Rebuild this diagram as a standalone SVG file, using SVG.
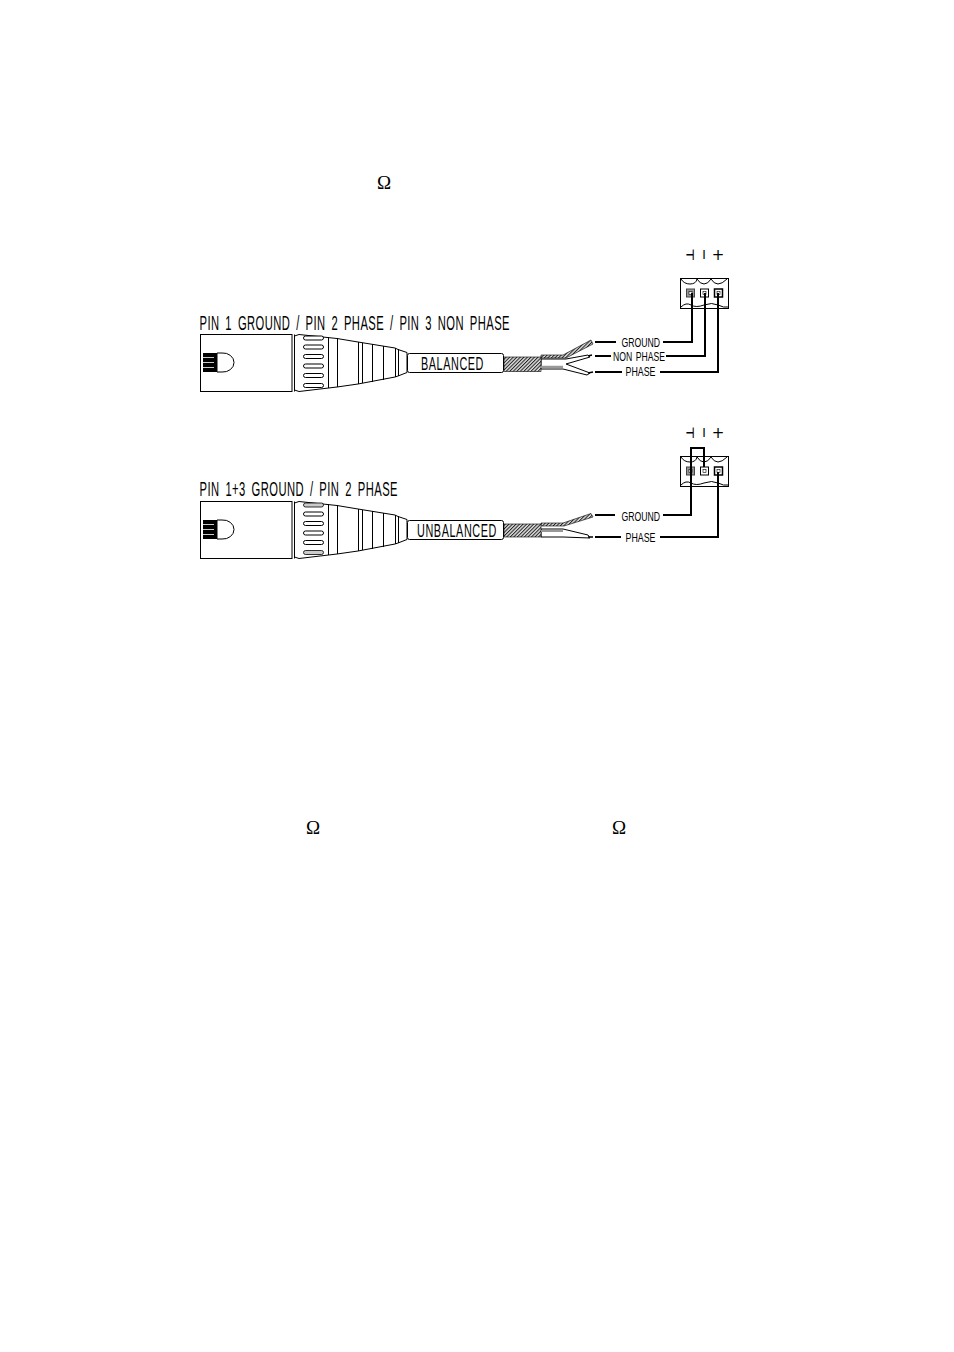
<svg xmlns="http://www.w3.org/2000/svg" width="954" height="1352" viewBox="0 0 954 1352">
<style>
.t{font-family:"Liberation Sans",Arial,sans-serif;fill:#000}
.big{font-size:19.500px;word-spacing:4px;letter-spacing:0.800px}
.mid{font-size:18.500px;letter-spacing:1px}
.sm{font-size:13.500px;word-spacing:2px}
.om{font-family:"Liberation Serif","Times New Roman",serif;font-size:19px;fill:#000}
.sym{font-family:"DejaVu Sans",sans-serif;font-size:15px;fill:#000;text-anchor:middle}
.l{fill:none;stroke:#000;stroke-width:1}
.lw{fill:#fff;stroke:#000;stroke-width:1}
.w{fill:none;stroke:#000;stroke-width:2}
.slot{fill:#fff;stroke:#000;stroke-width:1}
</style>
<defs>
<pattern id="hatch" width="2.500" height="2.500" patternUnits="userSpaceOnUse" patternTransform="rotate(45)">
<rect width="2.500" height="2.500" fill="#ddd"/><rect width="1" height="2.500" fill="#222"/>
</pattern>
<g id="xlr">
<rect class="lw" x="200.500" y="334.500" width="91.500" height="57"/>
<path class="l" d="M294.500 334.500V391.500"/>
<path class="lw" d="M294.500 336L299 334.500L337 338.500L358 342L395 348L398 349.500L407 352.500V372.500L398 376L395 377L358 384L337 387L299 391.500L294.500 390Z"/>
<path class="l" d="M328.500 337V388M337.500 338V387M358.500 342V384M362.500 343V383M372.500 344V382M383.500 346V380M395.500 348V377M398.500 349V376"/>
<path class="lw" d="M217 353H222A11 9.500 0 0 1 234 362.500A11 9.500 0 0 1 222 372H217Z"/>
<rect x="203" y="353" width="14" height="19" fill="#000"/>
<path d="M203 357.500H214M203 362.500H214M203 367.500H214" stroke="#fff" stroke-width="0.800"/>
</g>
<g id="slots">
<rect class="slot" x="303.500" y="345" width="20" height="4" rx="2"/>
<rect class="slot" x="303.500" y="354.500" width="20" height="4" rx="2"/>
<rect class="slot" x="303.500" y="364" width="20" height="4" rx="2"/>
<rect class="slot" x="303.500" y="373.500" width="20" height="4" rx="2"/>
</g>
<g id="block">
<rect class="lw" x="680.500" y="278.500" width="48" height="30"/>
<path class="l" d="M681 279Q684 284 690 284T697 279Q700 284 704 284T711 279Q714 284 718 284T727 279"/>
<path class="l" d="M681 307Q686 302 691 305T704 305T718 305T728 307" stroke-width="1.500"/>
<rect x="686.500" y="289" width="8" height="8" fill="#999" stroke="#444"/>
<rect x="700.500" y="289" width="8" height="8" fill="#fff" stroke="#000"/>
<rect x="714.500" y="289" width="8" height="8" fill="#fff" stroke="#000" stroke-width="1.500"/>
<rect x="689" y="291.500" width="3" height="3" fill="#fff" stroke="#000" stroke-width="0.600"/>
<rect x="703" y="291.500" width="3" height="3" fill="#fff" stroke="#000" stroke-width="0.600"/>
<rect x="717" y="291.500" width="3" height="3" fill="#fff" stroke="#000" stroke-width="0.600"/>
</g>
</defs>

<text class="om" x="377" y="189">Ω</text>
<text class="om" x="306" y="834">Ω</text>
<text class="om" x="612" y="834">Ω</text>

<g id="balanced-connector">
<use href="#xlr"/>
<use href="#slots"/>
<rect class="slot" x="303.500" y="336" width="20" height="4" rx="2"/>
<rect class="slot" x="303.500" y="383.500" width="20" height="4" rx="2"/>
<rect class="lw" x="407.500" y="353.500" width="96" height="19" rx="2"/>
<text class="t mid" x="421" y="370" textLength="63" lengthAdjust="spacingAndGlyphs">BALANCED</text>
<text class="t big" x="199.500" y="330" textLength="310.500" lengthAdjust="spacingAndGlyphs">PIN 1 GROUND / PIN 2 PHASE / PIN 3 NON PHASE</text>
</g>
<g id="balanced-wires">
<path d="M541 355H563L591 340L593 344L566 358H541Z" fill="url(#hatch)" stroke="#000" stroke-width="0.600"/>
<path class="lw" d="M541 359H566L588 355L590 357L566 364L590 373L587 375L563 369H541Z"/>
<rect x="504" y="357" width="37" height="14.500" fill="url(#hatch)" stroke="#000" stroke-width="0.600"/>
<path d="M541 367H563" stroke="#999" stroke-width="2.500"/>
<path d="M588 356L592 355M588 373L593 372" stroke="#000" stroke-width="1.500"/>
</g>
<g id="balanced-labels">
<text class="t sm" x="621.500" y="346.500" textLength="38.500" lengthAdjust="spacingAndGlyphs">GROUND</text>
<text class="t sm" x="613" y="360.500" textLength="52" lengthAdjust="spacingAndGlyphs">NON PHASE</text>
<text class="t sm" x="625.500" y="376" textLength="30" lengthAdjust="spacingAndGlyphs">PHASE</text>
</g>
<g id="balanced-block"><use href="#block"/>
<text class="sym" x="690" y="259.500" font-weight="bold" textLength="9" lengthAdjust="spacingAndGlyphs">⊣</text>
<text class="sym" x="704" y="259" style="font-size:12px">I</text>
<text class="sym" x="718" y="259.500">+</text>
</g>

<g id="unbalanced-connector">
<g transform="translate(0,167)"><use href="#xlr"/><use href="#slots"/></g>
<rect x="303.500" y="503" width="20" height="4" rx="2" fill="#ccc" stroke="#000" stroke-width="0.800"/>
<rect x="303.500" y="550.500" width="20" height="4" rx="2" fill="#ccc" stroke="#000" stroke-width="0.800"/>
<rect class="lw" x="407.500" y="520.500" width="96" height="19" rx="2"/>
<text class="t mid" x="417" y="537" textLength="80" lengthAdjust="spacingAndGlyphs">UNBALANCED</text>
<text class="t big" x="199.500" y="496" textLength="198.500" lengthAdjust="spacingAndGlyphs">PIN 1+3 GROUND / PIN 2 PHASE</text>
</g>
<g id="unbalanced-wires">
<path d="M541 523H563L591 513.500L593 517L564 526H541Z" fill="url(#hatch)" stroke="#000" stroke-width="0.600"/>
<path class="lw" d="M541 529H563L588 535L590 538L563 537H541Z"/>
<rect x="504" y="524" width="37" height="13" fill="url(#hatch)" stroke="#000" stroke-width="0.600"/>
<path d="M541 531H563" stroke="#999" stroke-width="2"/>
<path d="M588 537L593 537" stroke="#000" stroke-width="1.500"/>
</g>
<g id="unbalanced-labels">
<text class="t sm" x="621.500" y="520.500" textLength="38.500" lengthAdjust="spacingAndGlyphs">GROUND</text>
<text class="t sm" x="625.500" y="541.500" textLength="30" lengthAdjust="spacingAndGlyphs">PHASE</text>
</g>
<g id="unbalanced-block"><g transform="translate(0,178)"><use href="#block"/></g>
<text class="sym" x="690" y="437.500" font-weight="bold" textLength="9" lengthAdjust="spacingAndGlyphs">⊣</text>
<text class="sym" x="704" y="437" style="font-size:12px">I</text>
<text class="sym" x="718" y="437.500">+</text>
</g>

<g id="connectors">
<path class="w" d="M595 342H616M663 342H692V293"/>
<path class="w" d="M595 356H611M666 356H705V293"/>
<path class="w" d="M595 372H622M660 372H718V293"/>
<path class="w" d="M595 515H615M663 515H691V448H704V467"/>
<path class="w" d="M595 537H621M660 537H718V472"/>
</g>
</svg>
